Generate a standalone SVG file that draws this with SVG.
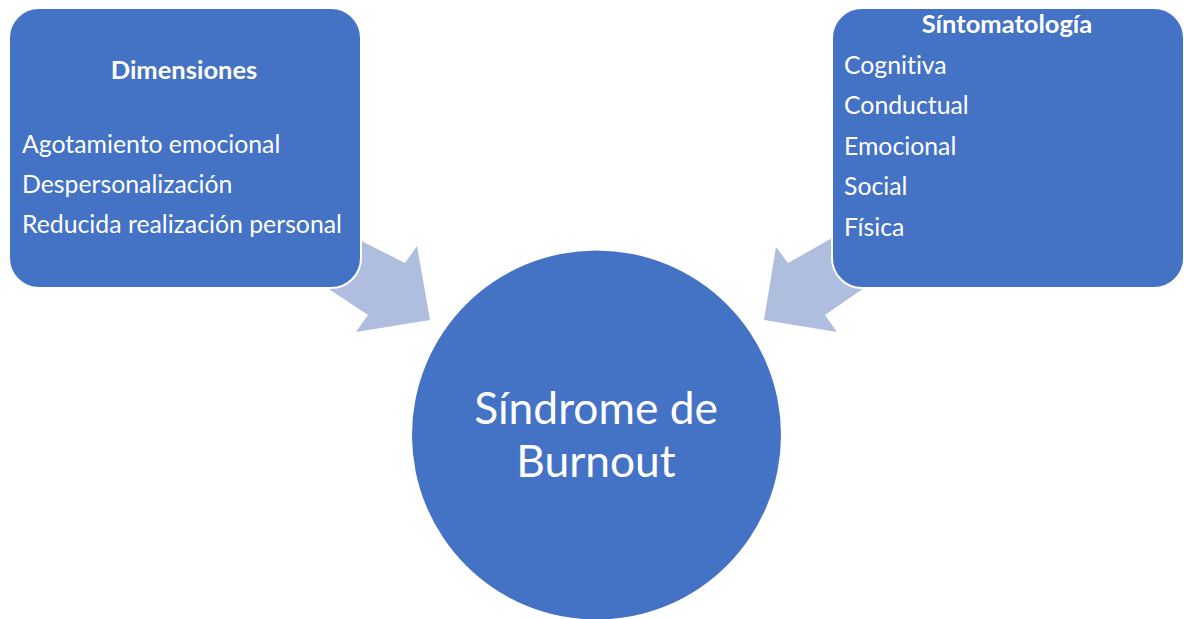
<svg xmlns="http://www.w3.org/2000/svg" width="1184" height="619" viewBox="0 0 1184 619">
<style>
.box{fill:#4472C4;stroke:#FFFFFF;stroke-width:2}
.arrow{fill:#AFBDDF}
.t{font-family:Lato,"Open Sans","Liberation Sans",sans-serif;fill:#FFFFFF;font-size:24.8px;font-variant-ligatures:none}
.b{font-weight:bold;font-size:25.5px}
.c{font-size:44.3px}
</style>
<rect width="1184" height="619" fill="#FFFFFF"/>
<g id="connectors">
<polygon class="arrow" points="320,220 405,263 417,246 430,320 356,332 368,315 300,270"/>
<polygon class="arrow" points="864,220 788,263 776,247 764,320 837,332 825,315 890,270"/>
</g>
<g id="dimensiones">
<rect class="box" x="9" y="8" width="352" height="280" rx="30"/>
<text class="t b" x="184" y="79" text-anchor="middle">Dimensiones</text>
<text class="t" x="22" y="153">Agotamiento emocional</text>
<text class="t" x="22" y="193">Despersonalización</text>
<text class="t" x="22" y="233">Reducida realización personal</text>
</g>
<g id="sintomatologia">
<rect class="box" x="832" y="8" width="352" height="280" rx="30"/>
<text class="t b" x="1007" y="33" text-anchor="middle">Síntomatología</text>
<text class="t" x="844" y="74">Cognitiva</text>
<text class="t" x="844" y="114">Conductual</text>
<text class="t" x="844" y="155">Emocional</text>
<text class="t" x="844" y="195">Social</text>
<text class="t" x="844" y="236">Física</text>
</g>
<g id="burnout">
<circle cx="596.5" cy="435" r="184.5" fill="#4472C4"/>
<text class="t c" x="596" y="424" text-anchor="middle">Síndrome de</text>
<text class="t c" x="596" y="477" text-anchor="middle">Burnout</text>
</g>
</svg>
